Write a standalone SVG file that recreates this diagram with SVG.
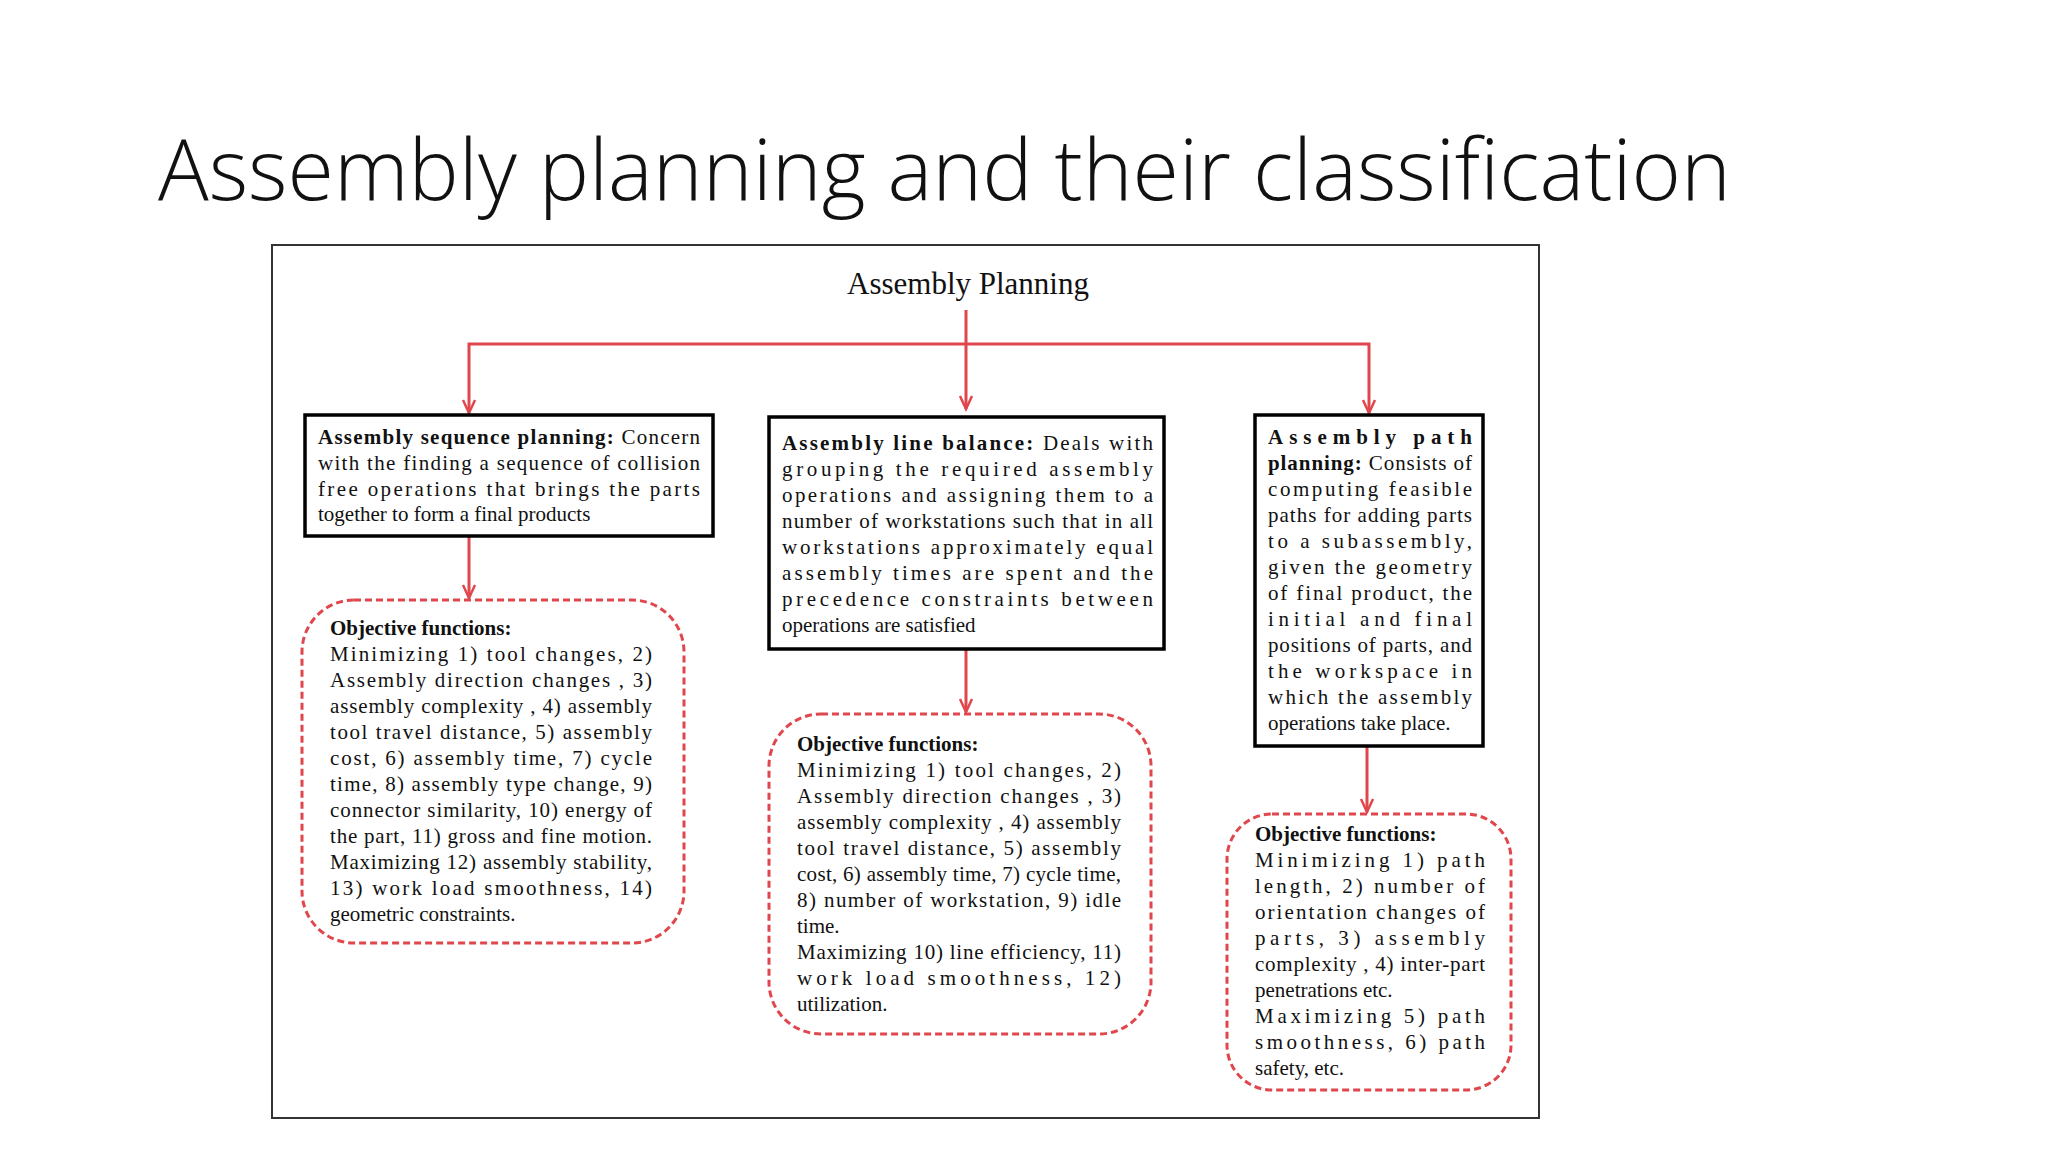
<svg xmlns="http://www.w3.org/2000/svg" width="2048" height="1152" viewBox="0 0 2048 1152">
<defs>
<style>
.t{font-family:"Liberation Serif",serif;font-size:21px;fill:#111}
.b{font-weight:bold}
.box{fill:#fff;stroke:#000;stroke-width:3.5}
.obj{fill:#fff;stroke:#e0474c;stroke-width:3;stroke-dasharray:7 4}
.c{fill:none;stroke:#e0474c;stroke-width:3}
.h{fill:none;stroke:#e0474c;stroke-width:2.5}
</style>
</defs>
<rect width="2048" height="1152" fill="#fff"/>
<text x="158" y="200" font-family="Open Sans, Noto Sans, sans-serif" font-weight="300" font-size="84" fill="#111" textLength="1573" lengthAdjust="spacingAndGlyphs">Assembly planning and their classification</text>
<rect x="272" y="245" width="1267" height="873" fill="#fff" stroke="#333" stroke-width="2"/>
<g id="root"><text x="968" y="294" text-anchor="middle" font-family="Liberation Serif, serif" font-size="31" fill="#111">Assembly Planning</text></g>
<g id="connectors">
<path class="c" d="M966,310 V409"/><path class="h" d="M960,396 L966,409 L972,396"/>
<path class="c" d="M469,413 V344 H1369 V413"/>
<path class="h" d="M463,400 L469,413 L475,400"/>
<path class="h" d="M1363,400 L1369,413 L1375,400"/>
<path class="c" d="M469,536 V598"/><path class="h" d="M463,585 L469,598 L475,585"/>
<path class="c" d="M966,649 V712"/><path class="h" d="M960,699 L966,712 L972,699"/>
<path class="c" d="M1367,746 V812"/><path class="h" d="M1361,799 L1367,812 L1373,799"/>
</g>
<g id="box1">
<rect class="box" x="305" y="415" width="408" height="121"/>
<text class="t" x="318" y="444" textLength="382"><tspan class="b">Assembly sequence planning:</tspan>  Concern</text>
<text class="t" x="318" y="470" textLength="382">with the finding a sequence of collision</text>
<text class="t" x="318" y="496" textLength="382">free  operations that  brings the parts</text>
<text class="t" x="318" y="521">together to form a final products</text>
</g>
<g id="box2">
<rect class="box" x="769" y="417" width="395" height="232"/>
<text class="t" x="782" y="450" textLength="371"><tspan class="b">Assembly line balance:</tspan>  Deals with</text>
<text class="t" x="782" y="476" textLength="371">grouping the required assembly</text>
<text class="t" x="782" y="502" textLength="371">operations and assigning them to a</text>
<text class="t" x="782" y="528" textLength="371">number of workstations such that in all</text>
<text class="t" x="782" y="554" textLength="371">workstations approximately equal</text>
<text class="t" x="782" y="580" textLength="371">assembly times are spent and the</text>
<text class="t" x="782" y="606" textLength="371">precedence constraints between</text>
<text class="t" x="782" y="632">operations are satisfied</text>
</g>
<g id="box3">
<rect class="box" x="1255" y="415" width="228" height="331"/>
<text class="t b" x="1268" y="444" textLength="204">Assembly path</text>
<text class="t" x="1268" y="470" textLength="204"><tspan class="b">planning:</tspan> Consists of</text>
<text class="t" x="1268" y="496" textLength="204">computing feasible</text>
<text class="t" x="1268" y="522" textLength="204">paths for adding parts</text>
<text class="t" x="1268" y="548" textLength="204">to a subassembly,</text>
<text class="t" x="1268" y="574" textLength="204">given the geometry</text>
<text class="t" x="1268" y="600" textLength="204">of final product, the</text>
<text class="t" x="1268" y="626" textLength="204">initial and final</text>
<text class="t" x="1268" y="652" textLength="204">positions of parts, and</text>
<text class="t" x="1268" y="678" textLength="204">the workspace in</text>
<text class="t" x="1268" y="704" textLength="204">which the assembly</text>
<text class="t" x="1268" y="730">operations take place.</text>
</g>
<g id="obj1">
<rect class="obj" x="302" y="600" width="382" height="343" rx="52"/>
<text class="t b" x="330" y="635">Objective functions:</text>
<text class="t" x="330" y="661" textLength="322">Minimizing 1)  tool changes,  2)</text>
<text class="t" x="330" y="687" textLength="322">Assembly direction changes , 3)</text>
<text class="t" x="330" y="713" textLength="322">assembly complexity , 4) assembly</text>
<text class="t" x="330" y="739" textLength="322">tool travel distance, 5) assembly</text>
<text class="t" x="330" y="765" textLength="322">cost, 6) assembly time, 7) cycle</text>
<text class="t" x="330" y="791" textLength="322">time, 8) assembly type change, 9)</text>
<text class="t" x="330" y="817" textLength="322">connector similarity, 10) energy of</text>
<text class="t" x="330" y="843" textLength="322">the part, 11) gross and fine motion.</text>
<text class="t" x="330" y="869" textLength="322">Maximizing 12) assembly stability,</text>
<text class="t" x="330" y="895" textLength="322">13) work load smoothness,  14)</text>
<text class="t" x="330" y="921">geometric constraints.</text>
</g>
<g id="obj2">
<rect class="obj" x="769" y="714" width="382" height="320" rx="52"/>
<text class="t b" x="797" y="751">Objective functions:</text>
<text class="t" x="797" y="777" textLength="324">Minimizing 1)  tool changes,  2)</text>
<text class="t" x="797" y="803" textLength="324">Assembly direction changes , 3)</text>
<text class="t" x="797" y="829" textLength="324">assembly complexity , 4) assembly</text>
<text class="t" x="797" y="855" textLength="324">tool travel distance, 5) assembly</text>
<text class="t" x="797" y="881" textLength="324">cost, 6) assembly time, 7) cycle time,</text>
<text class="t" x="797" y="907" textLength="324">8) number of workstation, 9) idle</text>
<text class="t" x="797" y="933">time.</text>
<text class="t" x="797" y="959" textLength="324">Maximizing 10) line efficiency, 11)</text>
<text class="t" x="797" y="985" textLength="324">work load smoothness, 12)</text>
<text class="t" x="797" y="1011">utilization.</text>
</g>
<g id="obj3">
<rect class="obj" x="1227" y="814" width="284" height="276" rx="45"/>
<text class="t b" x="1255" y="841">Objective functions:</text>
<text class="t" x="1255" y="867" textLength="230">Minimizing 1)  path</text>
<text class="t" x="1255" y="893" textLength="230">length, 2) number of</text>
<text class="t" x="1255" y="919" textLength="230">orientation changes of</text>
<text class="t" x="1255" y="945" textLength="230">parts, 3) assembly</text>
<text class="t" x="1255" y="971" textLength="230">complexity , 4) inter-part</text>
<text class="t" x="1255" y="997">penetrations etc.</text>
<text class="t" x="1255" y="1023" textLength="230">Maximizing 5) path</text>
<text class="t" x="1255" y="1049" textLength="230">smoothness, 6) path</text>
<text class="t" x="1255" y="1075">safety, etc.</text>
</g>
</svg>
